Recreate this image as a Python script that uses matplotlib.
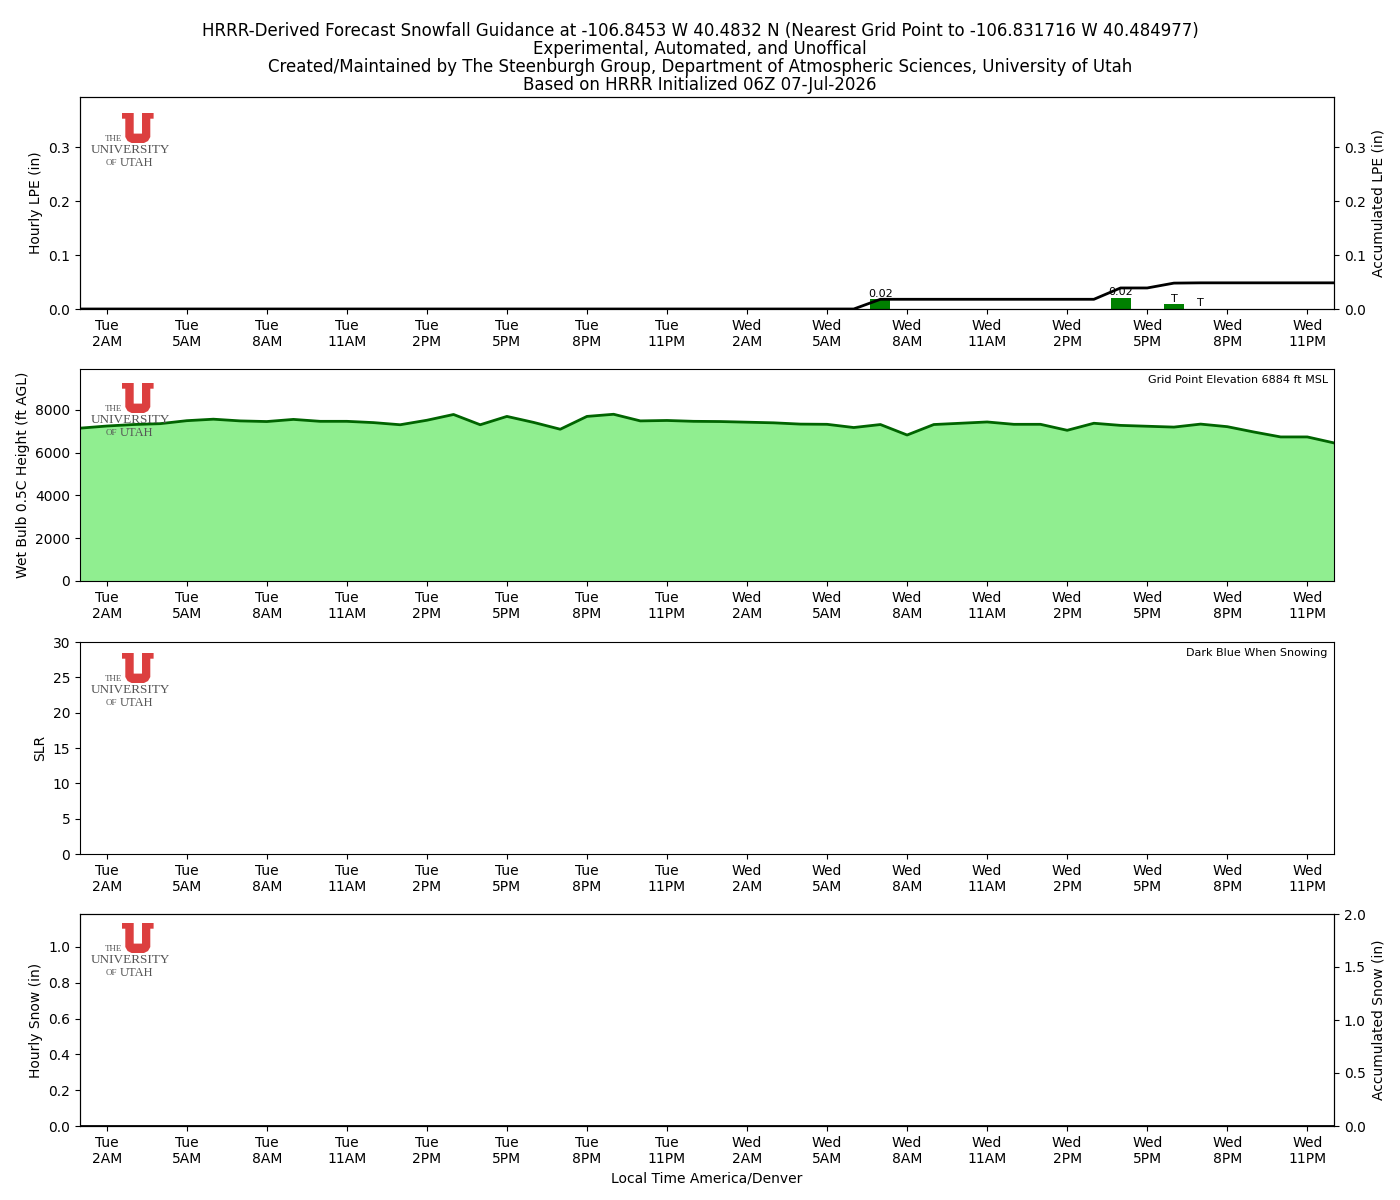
import numpy as np
import matplotlib
matplotlib.use("Agg")
import matplotlib.pyplot as plt
from matplotlib.patches import Polygon

# hourly forecast hours: Tue 1AM ... Thu 12AM (local)
hours = np.arange(48)

# hourly liquid precip (in) and where it falls
lpe_hours = [30, 39, 41, 42]
lpe_hourly = [0.018, 0.021, 0.009, 0.0005]

# accumulated liquid precip (in)
lpe_accum = [0.0] * 30 + [0.018] * 9 + [0.039, 0.039, 0.048] + [0.0485] * 6

# wet bulb 0.5C height (ft AGL)
wetbulb = [7150, 7250, 7320, 7360, 7500, 7570, 7490, 7460, 7560, 7470,
           7470, 7410, 7310, 7520, 7790, 7310, 7700, 7420, 7100, 7700,
           7800, 7490, 7510, 7470, 7460, 7430, 7400, 7340, 7330, 7180,
           7320, 6830, 7320, 7380, 7440, 7330, 7330, 7050, 7380, 7280,
           7240, 7200, 7340, 7220, 6970, 6740, 6740, 6460]

# SLR and snow: nothing this run
snow_accum = [0.0] * 48

tick_pos = [1, 4, 7, 10, 13, 16, 19, 22, 25, 28, 31, 34, 37, 40, 43, 46]
tick_labels = ["Tue\n2AM", "Tue\n5AM", "Tue\n8AM", "Tue\n11AM", "Tue\n2PM", "Tue\n5PM",
               "Tue\n8PM", "Tue\n11PM", "Wed\n2AM", "Wed\n5AM", "Wed\n8AM", "Wed\n11AM",
               "Wed\n2PM", "Wed\n5PM", "Wed\n8PM", "Wed\n11PM"]

W, H = 1400, 1200
fig = plt.figure(figsize=(14, 12), dpi=100)

title = ("HRRR-Derived Forecast Snowfall Guidance at -106.8453 W 40.4832 N "
         "(Nearest Grid Point to -106.831716 W 40.484977)\n"
         "Experimental, Automated, and Unoffical\n"
         "Created/Maintained by The Steenburgh Group, Department of Atmospheric Sciences, University of Utah\n"
         "Based on HRRR Initialized 06Z 07-Jul-2026")
fig.text(0.5, 1 - 22 / H, title, ha="center", va="top", fontsize=12, linespacing=1.0)

left, right = 80, 1334
tops = [97, 369, 642, 914]
ph = 212
axes = []
for t in tops:
    ax = fig.add_axes([left / W, 1 - (t + ph) / H, (right - left) / W, ph / H])
    ax.set_xlim(0, 47)
    ax.set_xticks(tick_pos)
    ax.set_xticklabels(tick_labels)
    axes.append(ax)

# panel 1: liquid precip
ax1 = axes[0]
ax1.bar(lpe_hours, lpe_hourly, width=0.75, color="green", zorder=2)
for h, v in zip(lpe_hours, lpe_hourly):
    lab = "T" if v < 0.01 else f"{v:.2f}"
    ax1.text(h, v + 0.001, lab, ha="center", va="bottom", fontsize=8)
ax1.set_ylim(0, 0.393)
ax1.set_ylabel("Hourly LPE (in)")
ax1b = ax1.twinx()
ax1b.plot(hours, lpe_accum, color="black", lw=2)
ax1b.set_ylim(0, 0.393)
ax1b.set_ylabel("Accumulated LPE (in)")

# panel 2: wet bulb height
ax2 = axes[1]
ax2.fill_between(hours, wetbulb, color="lightgreen")
ax2.plot(hours, wetbulb, color="darkgreen", lw=2)
ax2.set_ylim(0, 9918)
ax2.set_ylabel("Wet Bulb 0.5C Height (ft AGL)")
ax2.text(0.995, 0.97, "Grid Point Elevation 6884 ft MSL", transform=ax2.transAxes,
         ha="right", va="top", fontsize=8)

# panel 3: SLR
ax3 = axes[2]
ax3.set_ylim(0, 30)
ax3.set_yticks(range(0, 31, 5))
ax3.set_ylabel("SLR")
ax3.text(0.995, 0.97, "Dark Blue When Snowing", transform=ax3.transAxes,
         ha="right", va="top", fontsize=8)

# panel 4: snow
ax4 = axes[3]
ax4.set_ylim(0, 1.184)
ax4.set_yticks([0, 0.2, 0.4, 0.6, 0.8, 1.0])
ax4.set_ylabel("Hourly Snow (in)")
ax4.set_xlabel("Local Time America/Denver")
ax4b = ax4.twinx()
ax4b.plot(hours, snow_accum, color="black", lw=2)
ax4b.set_ylim(0, 2.0)
ax4b.set_ylabel("Accumulated Snow (in)")


# university logo, drawn in figure pixel coordinates
def px(x, y):
    return (x / W, 1 - y / H)


u_shape = [(0, 0), (11.7, 0), (11.7, 5.7), (11.7, 20.6), (20, 20.6), (20, 5.7), (20, 0),
           (31.6, 0), (31.6, 5.7), (28.3, 5.7), (28.3, 24), (26, 28), (22, 30), (9.6, 30),
           (5.6, 28), (3.3, 24), (3.3, 5.7), (0, 5.7)]
for top in [113, 383, 653, 923]:
    pts = [px(122 + a, top + b) for a, b in u_shape]
    fig.add_artist(Polygon(pts, closed=True, transform=fig.transFigure,
                           facecolor="#dc3f3f", edgecolor="none", zorder=10))
    fig.text(*px(113, top + 26), "THE", ha="center", va="center", fontsize=6.5,
             family="Liberation Serif", color="#555555", zorder=10)
    fig.text(*px(130, top + 37), "UNIVERSITY", ha="center", va="center", fontsize=9.5,
             family="Liberation Serif", color="#555555", zorder=10)
    fig.text(*px(111, top + 50), "OF", ha="center", va="center", fontsize=6.5,
             family="Liberation Serif", color="#555555", zorder=10)
    fig.text(*px(137, top + 50), "UTAH", ha="center", va="center", fontsize=9,
             family="Liberation Serif", color="#555555", zorder=10)

fig.savefig("out.png", dpi=100)
